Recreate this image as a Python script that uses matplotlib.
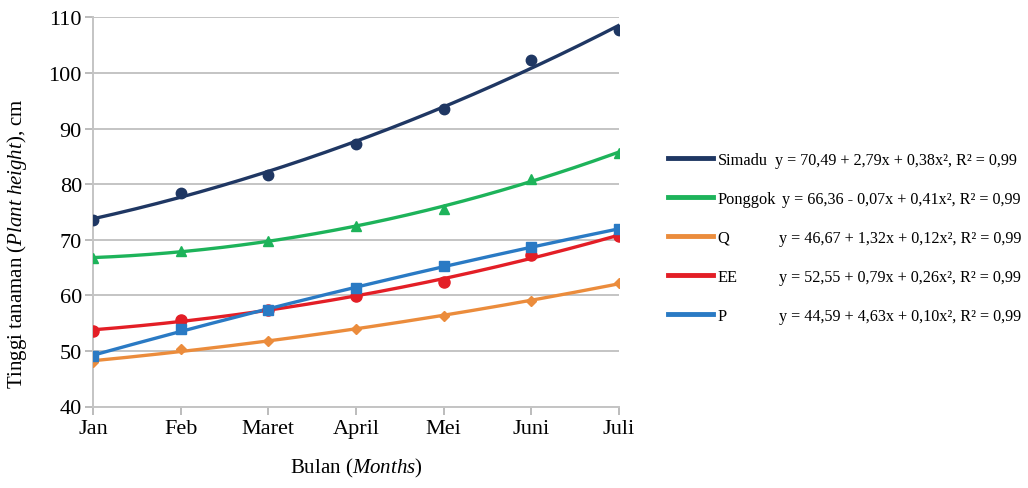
import numpy as np
import matplotlib
matplotlib.use("Agg")
import matplotlib.pyplot as plt
from matplotlib.lines import Line2D

plt.rcParams['font.family'] = ['Liberation Serif', 'DejaVu Serif']
plt.rcParams['mathtext.fontset'] = 'custom'
plt.rcParams['mathtext.rm'] = 'Liberation Serif'
plt.rcParams['mathtext.it'] = 'Liberation Serif:italic'

months = ["Jan", "Feb", "Maret", "April", "Mei", "Juni", "Juli"]
simadu = [73.6, 78.4, 81.7, 87.3, 93.5, 102.4, 107.8]
ponggok = [66.7, 68.0, 69.7, 72.5, 75.6, 81.0, 85.6]
q_vals = [48.0, 50.3, 51.7, 54.0, 56.3, 59.0, 62.2]
ee_vals = [53.6, 55.6, 57.4, 59.9, 62.4, 67.2, 70.7]
p_vals = [49.0, 54.0, 57.3, 61.4, 65.2, 68.6, 72.0]

names = ["Simadu", "Ponggok", "Q", "EE", "P"]
equations = [
    "y = 70,49 + 2,79x + 0,38x², R² = 0,99",
    "y = 66,36 - 0,07x + 0,41x², R² = 0,99",
    "y = 46,67 + 1,32x + 0,12x², R² = 0,99",
    "y = 52,55 + 0,79x + 0,26x², R² = 0,99",
    "y = 44,59 + 4,63x + 0,10x², R² = 0,99",
]
series = [simadu, ponggok, q_vals, ee_vals, p_vals]
colors = ["#1f3763", "#1db35a", "#eb8c3c", "#e31e26", "#2a7ac4"]
markers = ["o", "^", "D", "o", "s"]
msizes = [7.5, 7, 5, 8, 7.5]

fig = plt.figure(figsize=(10.28, 4.89), dpi=100)
ax = fig.add_axes([93/1028, 1-407.5/489, (619-93)/1028, (407.5-18.3)/489])

x = np.arange(len(months))
xf = np.linspace(0, len(months)-1, 200)
handles = []
for vals, c, m, ms, n in zip(series, colors, markers, msizes, names):
    coef = np.polyfit(x, vals, 2)
    ax.plot(xf, np.polyval(coef, xf), color=c, lw=2.4, zorder=3)
    ax.plot(x, vals, linestyle='none', marker=m, color=c, markersize=ms, zorder=4)
    handles.append(Line2D([], [], color=c, lw=3.5))

ax.set_xlim(0, 6)
ax.set_ylim(40, 110)
ax.set_yticks(range(40, 111, 10))
ax.set_xticks(x)
ax.set_xticklabels(months)
ax.tick_params(axis='both', labelsize=16, color='#b0b0b0', length=6, width=1.2)
ax.tick_params(axis='x', pad=3)
ax.tick_params(axis='y', pad=2)
ax.grid(axis='y', color='#c4c4c4', lw=1.4)
ax.set_axisbelow(True)
for s in ['top', 'right']:
    ax.spines[s].set_visible(False)
for s in ['left', 'bottom']:
    ax.spines[s].set_color('#c4c4c4')
    ax.spines[s].set_linewidth(1.4)

fig.text(17/1028, 1-244/489, r"Tinggi tanaman ($\mathit{Plant\ height}$), cm",
         rotation=90, ha='center', va='center', fontsize=15)
fig.text(356/1028, 1-468/489, r"Bulan ($\mathit{Months}$)",
         ha='center', va='center', fontsize=15)

fs = 11.8
leg = fig.legend(handles, names, loc='upper left', bbox_to_anchor=(661/1028, 1-146/489),
                 frameon=False, fontsize=fs, handlelength=2.75, handletextpad=0.3,
                 labelspacing=1.41, borderaxespad=0)

fig.canvas.draw()
inv = fig.transFigure.inverted()
eq_x = [775, 782, 779, 779, 779]
for t, eq, ex in zip(leg.get_texts(), equations, eq_x):
    bb = t.get_window_extent()
    yc = (bb.y0 + bb.y1) / 2
    _, yf = inv.transform((0, yc))
    fig.text(ex/1028, yf, eq, ha='left', va='center', fontsize=11.6)

fig.savefig("out.png", dpi=100)
